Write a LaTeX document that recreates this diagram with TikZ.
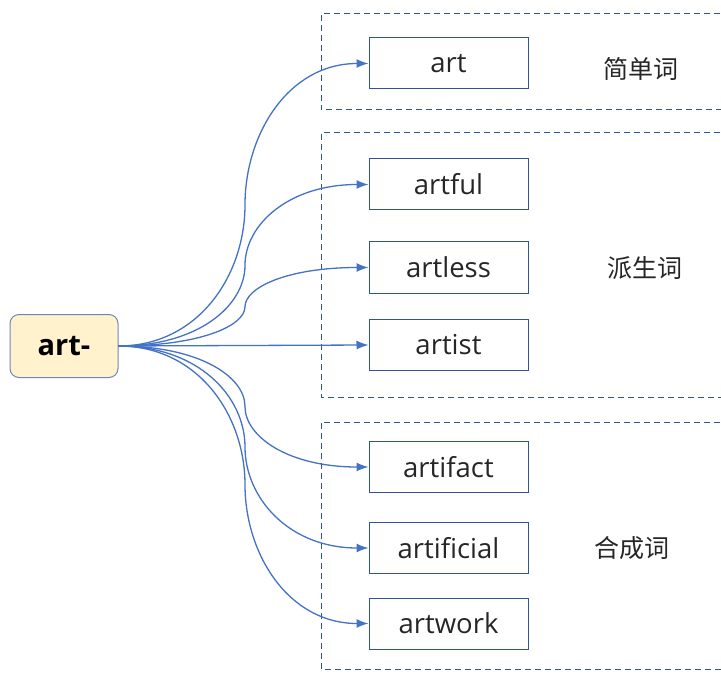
\documentclass[tikz,border=0pt]{standalone}
\usepackage{fontspec}
\setmainfont{Open Sans}
\newfontfamily\cjk{Noto Sans CJK SC}
\usetikzlibrary{arrows.meta,calc}
\definecolor{conncol}{HTML}{4472C4}
\definecolor{boxcol}{HTML}{2F5597}
\definecolor{grpcol}{HTML}{2F5597}
\definecolor{rootfill}{HTML}{FFF2CC}
\definecolor{rootline}{HTML}{6F87B5}
\definecolor{txtcol}{HTML}{262626}
\tikzset{
  wordbox/.style={draw=boxcol, line width=1pt, minimum width=159pt, minimum height=51pt, inner sep=0pt, text=txtcol, font=\fontsize{27.5}{31}\selectfont},
  rootbox/.style={draw=rootline, fill=rootfill, line width=1pt, rounded corners=9pt, minimum width=108pt, minimum height=63pt, inner sep=0pt, font=\fontsize{29}{33}\selectfont\bfseries},
  grp/.style={draw=grpcol, line width=1pt, dash pattern=on 6pt off 4pt},
  grplabel/.style={text=txtcol, font=\cjk\fontsize{25}{29}\selectfont},
  conn/.style={draw=conncol, line width=1.3pt, -{Latex[length=12pt,width=9pt]}}
}
\begin{document}
\begin{tikzpicture}[x=1pt,y=-1pt]
\useasboundingbox (0,0) rectangle (721,674);
\clip (0,0) rectangle (721,674);
% groups
\draw[grp] (730,14) -- (321,14) -- (321,110) -- (730,110);
\draw[grp] (730,133) -- (321,133) -- (321,397) -- (730,397);
\draw[grp] (730,422) -- (321,422) -- (321,669) -- (730,669);
% nodes
\node[rootbox] (root) at (64,346) {art-};
\node[wordbox] (art) at (448.5,63.5) {art};
\node[wordbox] (artful) at (448.5,184.5) {artful};
\node[wordbox] (artless) at (448.5,267.5) {artless};
\node[wordbox] (artist) at (448.5,345) {artist};
\node[wordbox] (artifact) at (448.5,467) {artifact};
\node[wordbox] (artificial) at (448.5,548) {artificial};
\node[wordbox] (artwork) at (448.5,623.5) {artwork};
\node[grplabel] (g1) at (641,69) {简单词};
\node[grplabel] (g2) at (645,268) {派生词};
\node[grplabel] (g3) at (632,548) {合成词};
% connectors
\foreach \t/\ty in {art/63.5,artful/184.5,artless/267.5,artifact/467,artificial/548,artwork/623.5}{
  \pgfmathsetmacro{\ym}{(346+\ty)/2}
  \pgfmathsetmacro{\mm}{(\ty-346)/4}
  \draw[conn] (root.east) .. controls +(80,0) and (245,\ym-\mm) .. (245,\ym)
     .. controls (245,\ym+\mm) and ($(\t.west)+(-80,0)$) .. (\t.west);
}
\draw[conn] (root.east) -- (artist.west);
\end{tikzpicture}
\end{document}
